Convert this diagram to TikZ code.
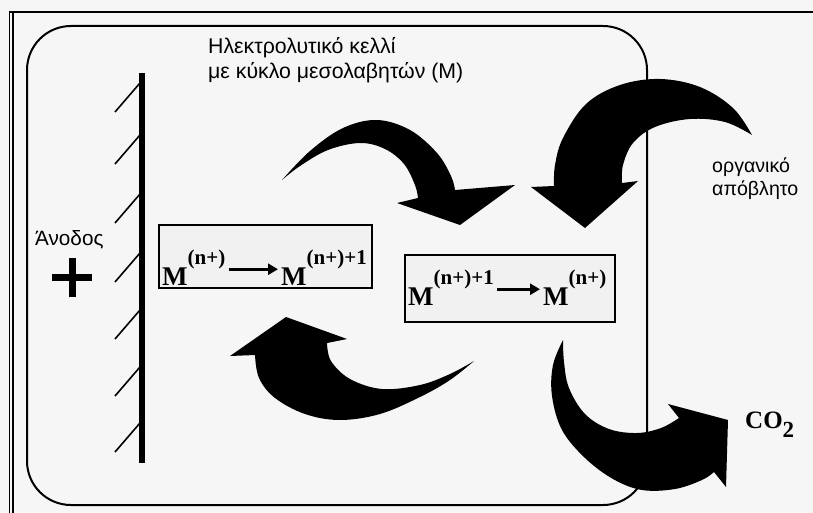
\documentclass[tikz,border=0pt]{standalone}
\usepackage{fontspec}
\setmainfont{Liberation Serif}
\newfontfamily\lblfont{Liberation Sans}
\usetikzlibrary{arrows.meta}
\definecolor{bgcol}{gray}{0.965}
\definecolor{boxcol}{gray}{0.945}
\tikzset{
  lbl/.style={font=\lblfont\fontsize{20}{24}\selectfont, inner sep=0pt, anchor=base west},
  biglbl/.style={lbl, font=\lblfont\fontsize{21.3}{24}\selectfont},
  formula/.style={font=\fontsize{27}{27}\selectfont\bfseries, inner sep=0pt, anchor=base west},
  mbox/.style={draw, line width=2pt, fill=boxcol, inner sep=0pt},
  rxn/.style={line width=3pt, -{Triangle[length=10pt,width=11pt]}, shorten <=3pt, shorten >=3pt},
  blockarrow/.style={fill=black},
  hatchline/.style={line width=1.6pt},
  frameline/.style={line width=1.6pt},
  cellline/.style={line width=2pt, rounded corners=44pt},
}
\newcommand{\Mion}[1]{M\raisebox{21pt}{\fontsize{21}{21}\selectfont #1}}
\begin{document}
\begin{tikzpicture}[x=1pt,y=-1pt]
\useasboundingbox (0,0) rectangle (813,513);
\fill[bgcol] (0,0) rectangle (813,513);
% outer frame (partly visible)
\draw[frameline] (9.5,513) -- (9.5,12) -- (813,12);
\draw[line width=1.2pt] (13,513) -- (13,13);
% electrolytic cell
\draw[cellline] (27,26) rectangle (647,505);
% anode
\draw[line width=5.5pt] (142,73) -- (142,463);
\foreach \y in {83,135,194,253,310,367,423}
  \draw[hatchline] (140,\y) -- (115,\y+29);
\draw[line width=7pt] (52,277) -- (92,277);
\draw[line width=7pt] (72,258) -- (72,297);
\node[lbl, font=\lblfont\fontsize{20.7}{24}\selectfont] (anode) at (35,245) {Άνοδος};
% title
\node[biglbl] (title1) at (208,54) {Ηλεκτρολυτικό κελλί};
\node[biglbl] (title2) at (208,79) {με κύκλο μεσολαβητών (Μ)};
% reaction boxes
\node[mbox, minimum width=213pt, minimum height=63pt] (box1) at (265.5,256.5) {};
\node[mbox, minimum width=210pt, minimum height=67pt] (box2) at (510,288.5) {};
\node[formula] (f1a) at (162,285) {\Mion{(n+)}};
\node[formula] (f1b) at (281,285) {\Mion{(n+)+1}};
\draw[rxn] ([yshift=-2pt]f1a.east) -- ([yshift=-2pt]f1b.west);
\node[formula] (f2a) at (408,305) {\Mion{(n+)+1}};
\node[formula] (f2b) at (543,305) {\Mion{(n+)}};
\draw[rxn] ([yshift=-2pt]f2a.east) -- ([yshift=-2pt]f2b.west);
% labels on the right
\node[lbl, font=\lblfont\fontsize{19.6}{24}\selectfont] (org1) at (712,172) {οργανικό};
\node[lbl, font=\lblfont\fontsize{19.6}{24}\selectfont] (org2) at (712,195) {απόβλητο};
\node[font=\fontsize{25}{25}\selectfont\bfseries, inner sep=0pt, anchor=base west] (co2) at (745,428) {CO\raisebox{-9pt}{\fontsize{23}{23}\selectfont 2}};
% block arrows
\fill[blockarrow] plot[smooth, tension=0.6] coordinates {(282,180) (310,151) (343,128) (377,120) (410,130) (437,153) (451,176) (455,190)}
  -- (515,185) -- (460,225) -- (397,203)
  -- plot[smooth, tension=0.6] coordinates {(418,198) (415,185) (404,164) (385,149) (360,143) (328,150) (300,166) (282,180)} -- cycle;
\fill[blockarrow] plot[smooth, tension=0.6] coordinates {(752,135) (733,108) (700,87) (660,79) (620,85) (586,104) (563,138) (555,165) (554,186)}
  -- (531,187) -- (585,228) -- (638,181)
  -- plot[smooth, tension=0.6] coordinates {(622,183) (623,165) (633,143) (655,127) (690,119) (725,122) (752,135)} -- cycle;
\fill[blockarrow] plot[smooth, tension=0.6] coordinates {(474,361) (450,380) (420,397) (380,414) (340,420) (305,414) (275,398) (259,378) (255,355)}
  -- (230,356) -- (286,317) -- (347,339)
  -- plot[smooth, tension=0.6] coordinates {(327,343) (331,361) (350,379) (382,389) (420,385) (450,374) (474,361)} -- cycle;
\fill[blockarrow] plot[smooth, tension=0.6] coordinates {(563,340) (553,365) (552,396) (562,430) (585,458) (613,479) (642,490) (675,489) (702,480) (714,472)}
  -- (726,487) -- (728,420) -- (668,404)
  -- plot[smooth, tension=0.6] coordinates {(679,418) (661,428) (637,433) (609,429) (585,414) (569,388) (564,362) (563,340)} -- cycle;
\end{tikzpicture}
\end{document}
